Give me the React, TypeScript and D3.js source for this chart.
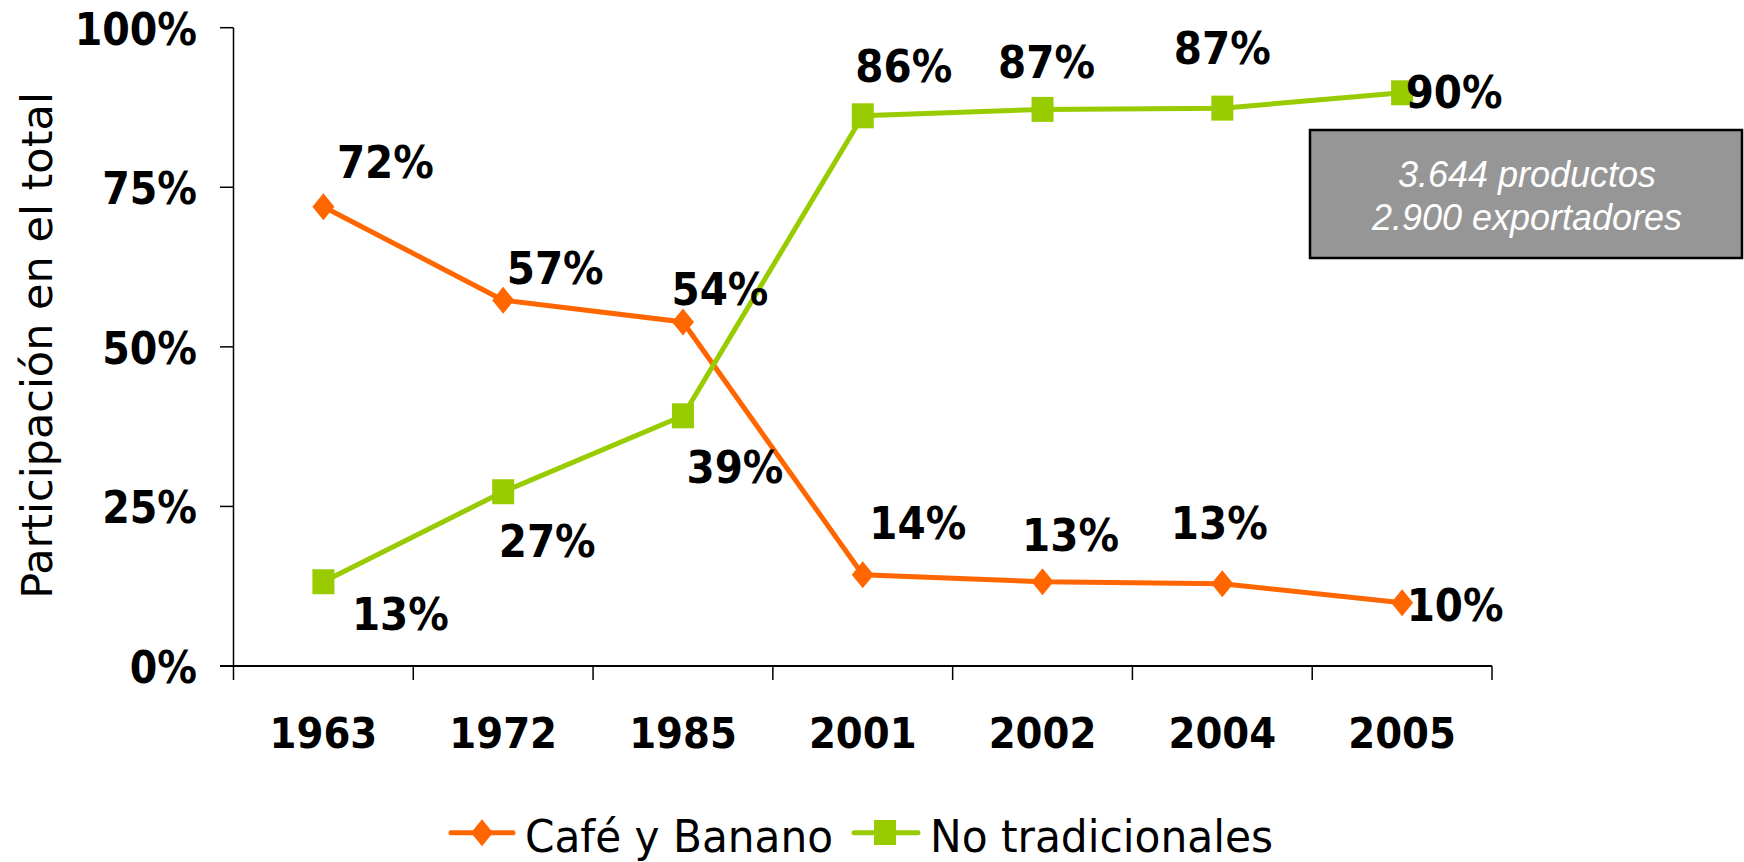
import React from "react";
import * as d3 from "d3";

const years = ["1963", "1972", "1985", "2001", "2002", "2004", "2005"];
const cafeBanano = [71.96, 57.3, 53.9, 14.3, 13.2, 12.9, 9.9];
const noTradicionales = [13.2, 27.3, 39.2, 86.2, 87.2, 87.4, 89.8];
const yTicks = [0, 25, 50, 75, 100];
const seriesNames = ["Café y Banano", "No tradicionales"];
const noteLines = ["3.644 productos", "2.900 exportadores"];

// label offsets (layout) relative to point: [dx, dy] of label center
const cafeLabelOffsets = [[62, -45], [52, -32], [37, -33], [55, -52], [28, -47], [-3, -61], [53, 2]];
const ntLabelOffsets = [[77, 32], [44, 49], [52, 51], [41, -50], [4, -47], [0, -60], [52, -1]];

const W = 1744, H = 862;
const X0 = 233.5, X1 = 1492, Y0 = 666, Y1 = 27.7;
const ORANGE = "#FF6600", GREEN = "#99CC00";
const BOLD = "'DejaVu Sans Condensed', 'DejaVu Sans', sans-serif";

export default function App() {
  const x = d3.scaleBand().domain(years).range([X0, X1]).padding(0);
  const y = d3.scaleLinear().domain([0, 100]).range([Y0, Y1]);
  const cx = (d: string) => (x(d) as number) + x.bandwidth() / 2;
  const line = d3.line<number>().x((_, i) => cx(years[i])).y((v) => y(v));
  const fmt = (v: number) => `${Math.round(v)}%`;
  const diamond = (px: number, py: number) =>
    `M${px},${py - 13.5}L${px + 11},${py}L${px},${py + 13.5}L${px - 11},${py}Z`;
  const boundaries = d3.range(years.length + 1).map((i) => X0 + i * x.bandwidth());

  const labelStyle: React.CSSProperties = {
    fontFamily: BOLD, fontWeight: "bold", fontSize: 45, fontStretch: "condensed",
  };

  return (
    <svg width={W} height={H} style={{ position: "absolute", left: 0, top: 0, background: "#fff" }}>
      {/* axes */}
      <line x1={X0} x2={X0} y1={Y1} y2={Y0} stroke="#000" strokeWidth={1.5} />
      {yTicks.map((t) => (
        <g key={t}>
          <line x1={220} x2={X0} y1={y(t)} y2={y(t)} stroke="#000" strokeWidth={1.5} />
          <text x={197} y={y(t) + 17} textAnchor="end" style={{ ...labelStyle, fontSize: 44 }}>
            {t}%
          </text>
        </g>
      ))}
      <line x1={220} x2={X1} y1={Y0} y2={Y0} stroke="#000" strokeWidth={2} />
      {boundaries.map((bx, i) => (
        <line key={i} x1={bx} x2={bx} y1={Y0} y2={Y0 + 14} stroke="#000" strokeWidth={1.5} />
      ))}
      {years.map((yr) => (
        <text key={yr} x={cx(yr)} y={748} textAnchor="middle" style={{ ...labelStyle, fontSize: 43 }}>
          {yr}
        </text>
      ))}
      <text
        transform={`translate(52,345.5) rotate(-90)`}
        textAnchor="middle"
        style={{ fontFamily: "'DejaVu Sans', sans-serif", fontSize: 43 }}
      >
        Participación en el total
      </text>

      {/* series */}
      <path d={line(cafeBanano) || ""} fill="none" stroke={ORANGE} strokeWidth={5} />
      {cafeBanano.map((v, i) => (
        <path key={i} d={diamond(cx(years[i]), y(v))} fill={ORANGE} />
      ))}
      <path d={line(noTradicionales) || ""} fill="none" stroke={GREEN} strokeWidth={5} />
      {noTradicionales.map((v, i) => (
        <rect key={i} x={cx(years[i]) - 11} y={y(v) - 12.5} width={22} height={25} fill={GREEN} />
      ))}

      {/* data labels */}
      {cafeBanano.map((v, i) => (
        <text key={"c" + i} x={cx(years[i]) + cafeLabelOffsets[i][0]} y={y(v) + cafeLabelOffsets[i][1] + 16}
          textAnchor="middle" style={labelStyle}>{fmt(v)}</text>
      ))}
      {noTradicionales.map((v, i) => (
        <text key={"n" + i} x={cx(years[i]) + ntLabelOffsets[i][0]} y={y(v) + ntLabelOffsets[i][1] + 16}
          textAnchor="middle" style={labelStyle}>{fmt(v)}</text>
      ))}

      {/* note box */}
      <rect x={1310} y={130} width={432} height={128} fill="#969696" stroke="#000" strokeWidth={2.5} />
      {noteLines.map((t, i) => (
        <text key={t} x={1527} y={187 + i * 43} textAnchor="middle" fill="#fff"
          style={{ fontFamily: "'Liberation Sans', Arial, sans-serif", fontStyle: "italic", fontSize: 36 }}>
          {t}
        </text>
      ))}

      {/* legend */}
      <line x1={451} x2={513} y1={832.7} y2={832.7} stroke={ORANGE} strokeWidth={5} strokeLinecap="round" />
      <path d={diamond(482, 832.7)} fill={ORANGE} />
      <text x={525} y={852} textLength={308} lengthAdjust="spacingAndGlyphs"
        style={{ fontFamily: "'DejaVu Sans Condensed', 'DejaVu Sans', sans-serif", fontStretch: "condensed", fontSize: 44 }}>
        {seriesNames[0]}
      </text>
      <line x1={854} x2={918} y1={832.7} y2={832.7} stroke={GREEN} strokeWidth={5} strokeLinecap="round" />
      <rect x={874} y={820} width={22} height={25} fill={GREEN} />
      <text x={930} y={852} textLength={343} lengthAdjust="spacingAndGlyphs"
        style={{ fontFamily: "'DejaVu Sans Condensed', 'DejaVu Sans', sans-serif", fontStretch: "condensed", fontSize: 44 }}>
        {seriesNames[1]}
      </text>
    </svg>
  );
}
